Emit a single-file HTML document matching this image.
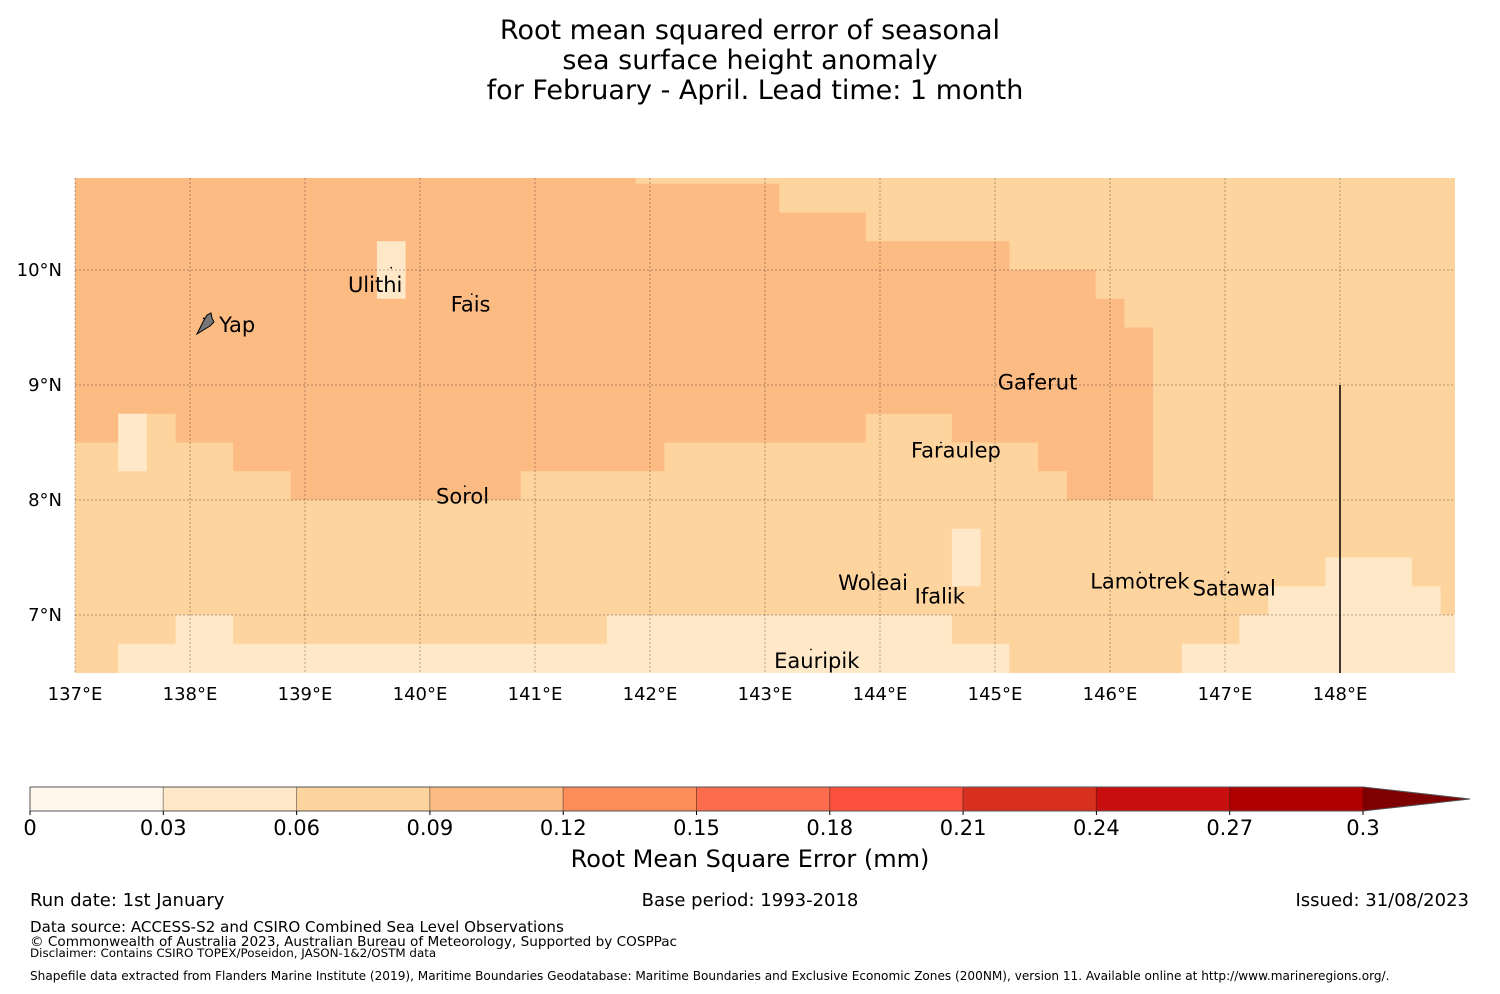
<!DOCTYPE html>
<html><head><meta charset="utf-8"><style>
body{margin:0;background:#fff;width:1500px;height:990px;overflow:hidden;font-family:"DejaVu Sans","Liberation Sans",sans-serif}
svg text{font-family:"DejaVu Sans","Liberation Sans",sans-serif}
</style></head><body>
<svg id="chart" width="1500" height="990">
<g font-size="27" text-anchor="middle" fill="#000">
<text x="750" y="39">Root mean squared error of seasonal</text>
<text x="750" y="69">sea surface height anomaly</text>
<text x="755" y="99">for February - April. Lead time: 1 month</text>
</g>
<defs><clipPath id="mapclip"><rect x="75" y="178" width="1380" height="495"/></clipPath></defs>
<g id="cells" clip-path="url(#mapclip)"></g>
<g id="grid"></g>
<line x1="1340" y1="385" x2="1340" y2="673" stroke="#000" stroke-width="1.5"/>
<g id="axes" font-size="18" fill="#000"></g>
<g id="islands" font-size="21" fill="#000"></g>
<path d="M197,334 L203,322 L207,315 L211,313 L212,318 L214,322 L210,326 L205,329 Z" fill="#777" stroke="#000" stroke-width="1"/>
<g id="cbar"></g>
<text x="750" y="867" font-size="24" text-anchor="middle">Root Mean Square Error (mm)</text>
<g font-size="18" fill="#000">
<text x="30" y="906">Run date: 1st January</text>
<text x="750" y="906" text-anchor="middle">Base period: 1993-2018</text>
<text x="1469" y="906" text-anchor="end">Issued: 31/08/2023</text>
<text x="30" y="932" font-size="15.1">Data source: ACCESS-S2 and CSIRO Combined Sea Level Observations</text>
<text x="30" y="946" font-size="13.6">© Commonwealth of Australia 2023, Australian Bureau of Meteorology, Supported by COSPPac</text>
<text x="30" y="957" font-size="11.9">Disclaimer: Contains CSIRO TOPEX/Poseidon, JASON-1&amp;2/OSTM data</text>
<text x="30" y="980" font-size="12.1">Shapefile data extracted from Flanders Marine Institute (2019), Maritime Boundaries Geodatabase: Maritime Boundaries and Exclusive Economic Zones (200NM), version 11. Available online at http://www.marineregions.org/.</text>
</g>
</svg>
<script>
// Data
const rowTops=[10.8,10.75,10.5,10.25,10,9.75,9.5,9.25,9,8.75,8.5,8.25,8,7.75,7.5,7.25,7,6.75];
// level per column (49 cols, centers 137.0 + 0.25k); run-length: [level,count]
const rowRuns=[
[[3,20],[2,29]],
[[3,25],[2,24]],
[[3,28],[2,21]],
[[3,11],[1,1],[3,21],[2,16]],
[[3,11],[1,1],[3,24],[2,13]],
[[3,37],[2,12]],
[[3,38],[2,11]],
[[3,38],[2,11]],
[[3,38],[2,11]],
[[3,2],[1,1],[2,1],[3,24],[2,3],[3,7],[2,11]],
[[2,2],[1,1],[2,3],[3,15],[2,13],[3,4],[2,11]],
[[2,8],[3,8],[2,19],[3,3],[2,11]],
[[2,49]],
[[2,31],[1,1],[2,17]],
[[2,31],[1,1],[2,12],[1,3],[2,2]],
[[2,42],[1,6],[2,1]],
[[2,4],[1,2],[2,13],[1,12],[2,10],[1,8]],
[[2,2],[1,31],[2,6],[1,10]]
];
const levelColors=["#fff7ec","#fee8c8","#fdd49e","#fdbb84"];
const lonTicks=[137,138,139,140,141,142,143,144,145,146,147,148];
const latTicks=[10,9,8,7];
const cbBounds=[0,0.03,0.06,0.09,0.12,0.15,0.18,0.21,0.24,0.27,0.3];
const cbColors=["#fff7ec","#fee8c8","#fdd49e","#fdbb84","#fc8d59","#fc6c4d","#fb503b","#d7301f","#c90e0e","#b00000"];
const islands=[["Yap",138.41,9.52],["Ulithi",139.61,9.87],["Fais",140.44,9.7],["Gaferut",145.37,9.02],["Faraulep",144.66,8.43],["Sorol",140.37,8.03],["Woleai",143.94,7.28],["Ifalik",144.52,7.16],["Lamotrek",146.26,7.29],["Satawal",147.08,7.23],["Eauripik",143.45,6.6]];
const dotPos=[[138.12,9.58],[139.75,10.02],[140.45,9.79],[145.33,9.09],[144.53,8.5],[140.39,8.12],[143.93,7.37],[144.5,7.2],[146.26,7.37],[147.03,7.37],[143.4,6.7]];

const X=lon=>75+(lon-137)*115, Y=lat=>270+(10-lat)*115;
const NS="http://www.w3.org/2000/svg";
function mk(t,a,p){const e=document.createElementNS(NS,t);for(const k in a)e.setAttribute(k,a[k]);p.appendChild(e);return e;}
const cells=document.getElementById('cells');
rowRuns.forEach((runs,r)=>{
  const top=rowTops[r], bot=r+1<rowTops.length?rowTops[r+1]:6.5;
  let c=0;
  runs.forEach(([lv,n])=>{
    const l0=136.875+c*0.25, l1=136.875+(c+n)*0.25;
    const e=mk('rect',{x:X(l0),y:Y(top),width:X(l1)-X(l0)+0.5,height:Y(bot)-Y(top)+0.5,fill:levelColors[lv]},cells);
    
    
    c+=n;
  });
});
const grid=document.getElementById('grid'), axes=document.getElementById('axes');
lonTicks.forEach(v=>{
  const g=mk('line',{x1:X(v),x2:X(v),y1:178,y2:673,stroke:"rgba(0,0,0,0.3)","stroke-width":1,"stroke-dasharray":"2,2"},grid);
  
  
  const t=mk('text',{x:X(v),y:700,"text-anchor":"middle"},axes);t.textContent=v+"°E";
  
  
});
latTicks.forEach(v=>{
  const g=mk('line',{x1:75,x2:1455,y1:Y(v),y2:Y(v),stroke:"rgba(0,0,0,0.3)","stroke-width":1,"stroke-dasharray":"2,2"},grid);
  
  
  const t=mk('text',{x:62,y:Y(v)+6,"text-anchor":"end"},axes);t.textContent=v+"°N";
  
  
});
const isl=document.getElementById('islands');
islands.forEach(([n,lon,lat],i)=>{
  const t=mk('text',{x:X(lon),y:Y(lat)+7,"text-anchor":"middle"},isl);t.textContent=n;
  
  
  const d=mk('circle',{cx:X(dotPos[i][0]),cy:Y(dotPos[i][1]),r:0.9,fill:"#000"},isl);
  
  
});
const cb=document.getElementById('cbar');
const CX=v=>30+(v/0.3)*1333;
cbColors.forEach((col,i)=>{
  const r=mk('rect',{x:CX(cbBounds[i]),y:787,width:CX(cbBounds[i+1])-CX(cbBounds[i]),height:24,fill:col,stroke:"rgba(0,0,0,0.3)","stroke-width":1},cb);
  
  
});
const tri=mk('polygon',{points:`${CX(0.3)},787 1470,799 ${CX(0.3)},811`,fill:"#7f0000"},cb);


mk('path',{d:`M${CX(0.3)},787 L30,787 L30,811 L${CX(0.3)},811 M${CX(0.3)},787 L1470,799 L${CX(0.3)},811`,fill:"none",stroke:"#555","stroke-width":1},cb);
cbBounds.forEach(v=>{
  mk('line',{x1:CX(v),x2:CX(v),y1:811,y2:815,stroke:"#000"},cb);
  const t=mk('text',{x:CX(v),y:835,"text-anchor":"middle","font-size":21},cb);
  t.textContent=String(v===0?0:+v.toFixed(2));
  
  
});
</script>
</body></html>
